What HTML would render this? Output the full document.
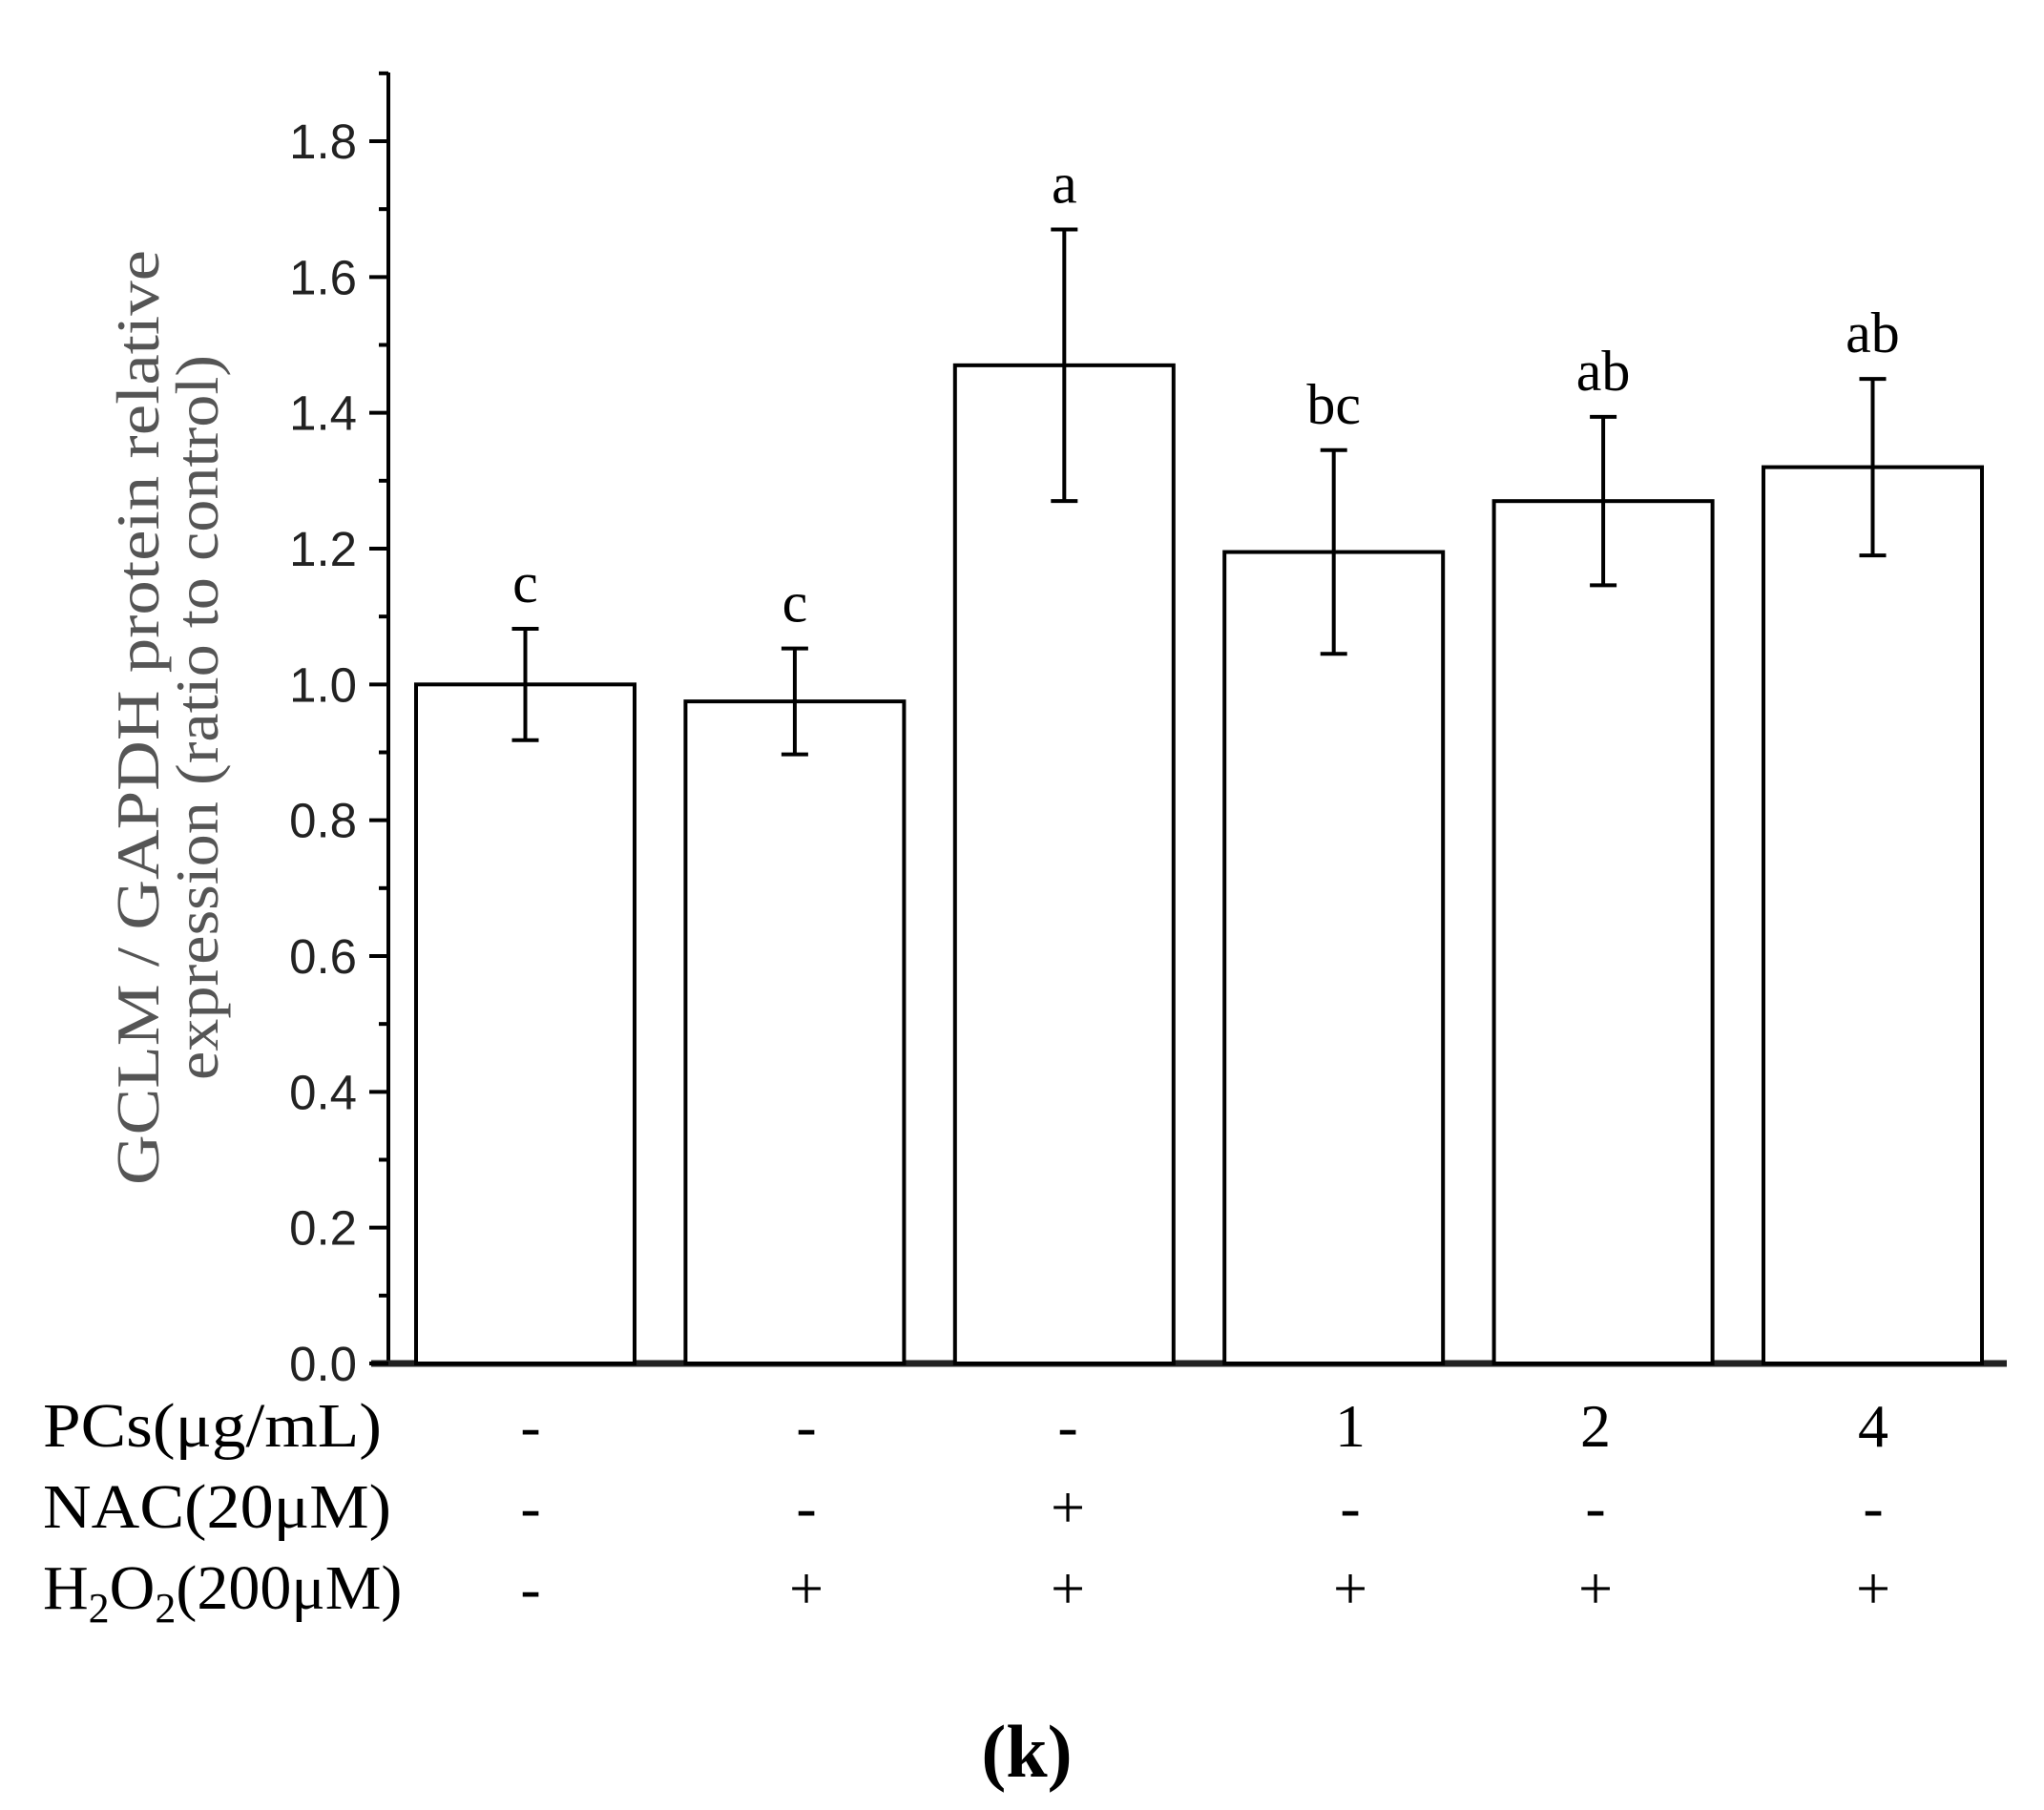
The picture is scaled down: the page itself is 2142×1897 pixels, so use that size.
<!DOCTYPE html>
<html><head><meta charset="utf-8"><style>
html,body{margin:0;padding:0;background:#fff;}
svg{display:block;}
</style></head><body>
<svg id="chart" width="2142" height="1897" viewBox="0 0 2142 1897" xmlns="http://www.w3.org/2000/svg">
<g id="axes"></g><g id="bars"></g><g id="table"></g>
<text transform="translate(166,752) rotate(-90)" text-anchor="middle" font-family="Liberation Serif, serif" font-size="64" fill="#555" textLength="980" lengthAdjust="spacingAndGlyphs">GCLM / GAPDH protein relative</text>
<text transform="translate(228,752) rotate(-90)" text-anchor="middle" font-family="Liberation Serif, serif" font-size="64" fill="#555" textLength="760" lengthAdjust="spacingAndGlyphs">expression (ratio to control)</text>
<text x="1076" y="1862" text-anchor="middle" font-family="Liberation Serif, serif" font-weight="bold" font-size="78" fill="#000">(k)</text>
</svg>
<script>
const categories = ["ctrl","H2O2","NAC+H2O2","PCs1","PCs2","PCs4"];
const values = [1.0, 0.975, 1.47, 1.195, 1.27, 1.32];
const errors = [0.082, 0.078, 0.2, 0.15, 0.124, 0.13];
const letters = ["c","c","a","bc","ab","ab"];
const yTicks = [0.0,0.2,0.4,0.6,0.8,1.0,1.2,1.4,1.6,1.8];
const pcsRow = ["-","-","-","1","2","4"];
const nacRow = ["-","-","+","-","-","-"];
const h2o2Row = ["-","+","+","+","+","+"];

const NS="http://www.w3.org/2000/svg";
const X0=407, Y0=1429, Y18=148, XEND=2103, YTOP=76;
const y = v => Y0 - (v/1.8)*(Y0-Y18);
const barW=229, pitch=282.4, firstLeft=436;
const xc = i => firstLeft + i*pitch + barW/2;
function mk(tag, attrs, parent){const e=document.createElementNS(NS,tag);for(const k in attrs)e.setAttribute(k,attrs[k]);parent.appendChild(e);return e;}
const axes=document.getElementById('axes'), bars=document.getElementById('bars'), table=document.getElementById('table');

let e=mk('line',{x1:X0,y1:YTOP,x2:X0,y2:Y0+2,stroke:'#000','stroke-width':4},axes);


e=mk('line',{x1:X0-18,y1:Y0,x2:XEND,y2:Y0,stroke:'#222','stroke-width':7},axes);


yTicks.forEach(t=>{
  const ty=y(t);
  let l=mk('line',{x1:X0-20,y1:ty,x2:X0,y2:ty,stroke:'#000','stroke-width':4},axes);
  
  
  let m=mk('line',{x1:X0-10,y1:y(t+0.1),x2:X0,y2:y(t+0.1),stroke:'#000','stroke-width':4},axes);
  
  
  let tx=mk('text',{x:X0-33,y:ty+18,'text-anchor':'end','font-family':'Liberation Sans, sans-serif','font-size':51,fill:'#222'},axes);
  tx.textContent=t.toFixed(1);
  
  
});
values.forEach((v,i)=>{
  const left=firstLeft+i*pitch;
  let r=mk('rect',{x:left,y:y(v),width:barW,height:Y0-y(v),fill:'#fff',stroke:'#000','stroke-width':4},bars);
  
  
  const cx=xc(i), hi=y(v+errors[i]), lo=y(v-errors[i]);
  let g=mk('path',{d:`M${cx},${hi}V${lo}M${cx-14},${hi}H${cx+14}M${cx-14},${lo}H${cx+14}`,stroke:'#000','stroke-width':4,fill:'none'},bars);
  
  
  let t=mk('text',{x:cx,y:hi-28,'text-anchor':'middle','font-family':'Liberation Serif, serif','font-size':60,fill:'#000'},bars);
  t.textContent=letters[i];
  
  
});
const symX=[556,845,1119,1415,1672,1963];
const rows=[[pcsRow,1516,'PCs(μg/mL)',355],[nacRow,1601,'NAC(20μM)',365],[h2o2Row,1686,null,410]];
rows.forEach(([arr,by,label,len])=>{
  let lt=mk('text',{x:45,y:by,'font-family':'Liberation Serif, serif','font-size':66,fill:'#000',textLength:len,lengthAdjust:'spacingAndGlyphs'},table);
  if(label) lt.textContent=label;
  else { lt.removeAttribute('textLength'); lt.innerHTML='H<tspan font-size="44" dy="14">2</tspan><tspan dy="-14">O</tspan><tspan font-size="44" dy="14">2</tspan><tspan dy="-14">(200μM)</tspan>'; }
  
  
  arr.forEach((s,i)=>{
    let t=mk('text',{x:symX[i],y:by,'text-anchor':'middle','font-family':'Liberation Serif, serif','font-size':64,fill:'#000'},table);
    t.textContent=s;
    
    
  });
});
</script>
</body></html>
